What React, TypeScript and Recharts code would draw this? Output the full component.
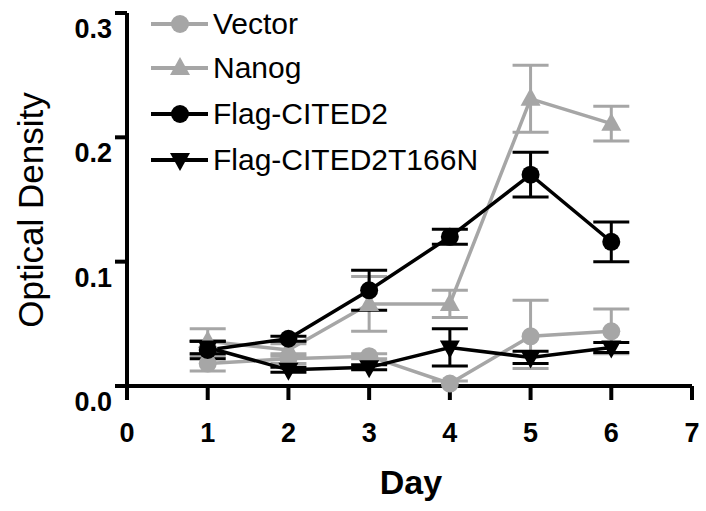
import { LineChart, Line, XAxis, YAxis, ErrorBar, Legend } from "recharts";

const days = [1, 2, 3, 4, 5, 6];
const vector = [0.018, 0.022, 0.024, 0.002, 0.04, 0.044];
const vectorErr = [0.006, 0.004, 0.002, 0.002, [0.026, 0.029], 0.018];
const nanog = [0.036, 0.029, 0.066, 0.066, 0.231, 0.211];
const nanogErr = [0.01, 0.005, 0.022, 0.011, 0.027, 0.014];
const cited2 = [0.029, 0.038, 0.077, 0.12, 0.17, 0.116];
const cited2Err = [0.007, 0.002, 0.016, 0.006, 0.018, 0.016];
const t166n = [0.031, 0.013, 0.015, 0.031, 0.023, 0.031];
const t166nErr = [0.005, 0.002, 0.002, 0.015, 0.005, 0.004];
const xTicks = [0, 1, 2, 3, 4, 5, 6, 7];
const yTicks = [0, 0.1, 0.2, 0.3];

const GREY = "#a6a6a6";
const BLACK = "#000";
const FONT = "'Liberation Sans', Arial, sans-serif";

const data = days.map((d, i) => ({
  day: d,
  vector: vector[i],
  vectorErr: vectorErr[i],
  nanog: nanog[i],
  nanogErr: nanogErr[i],
  cited2: cited2[i],
  cited2Err: cited2Err[i],
  t166n: t166n[i],
  t166nErr: t166nErr[i],
}));

type Shape = "circle" | "up" | "down";

function marker(shape: Shape, cx: number, cy: number, color: string, key?: string | number) {
  if (shape === "circle") return <circle key={key} cx={cx} cy={cy} r={9} fill={color} />;
  if (shape === "up")
    return <polygon key={key} points={`${cx},${cy - 11} ${cx - 10},${cy + 7} ${cx + 10},${cy + 7}`} fill={color} />;
  return <polygon key={key} points={`${cx - 10},${cy - 7} ${cx + 10},${cy - 7} ${cx},${cy + 11}`} fill={color} />;
}

const dot = (shape: Shape, color: string) => (p: any) => marker(shape, p.cx, p.cy, color, p.index);

const series = [
  { key: "vector", name: "Vector", color: GREY, shape: "circle" as Shape },
  { key: "nanog", name: "Nanog", color: GREY, shape: "up" as Shape },
  { key: "cited2", name: "Flag-CITED2", color: BLACK, shape: "circle" as Shape },
  { key: "t166n", name: "Flag-CITED2T166N", color: BLACK, shape: "down" as Shape },
];

const legendRows = [24, 68, 114, 160];

function LegendBox() {
  return (
    <svg width={706} height={190}>
      {series.map((s, i) => (
        <g key={s.key}>
          <line x1={151} x2={208} y1={legendRows[i]} y2={legendRows[i]} stroke={s.color} strokeWidth={4} />
          {marker(s.shape, 180, legendRows[i], s.color)}
          <text x={213} y={legendRows[i] + 10} fontFamily={FONT} fontSize={30} fill="#000">
            {s.name}
          </text>
        </g>
      ))}
    </svg>
  );
}

const YTick = (p: any) => (
  <text x={p.x} y={p.y + 25} textAnchor="end" fontFamily={FONT} fontWeight="bold" fontSize={27} fill="#000">
    {p.payload.value.toFixed(1)}
  </text>
);

const XTick = (p: any) => (
  <text x={p.x} y={p.y + 40} textAnchor="middle" fontFamily={FONT} fontWeight="bold" fontSize={27} fill="#000">
    {p.payload.value}
  </text>
);

export default function App() {
  return (
    <div style={{ position: "absolute", left: 0, top: 0, width: 706, height: 511, background: "#fff" }}>
      <LineChart width={706} height={511} data={data} margin={{ top: 13, right: 14, bottom: 25, left: 0 }}>
        <XAxis
          dataKey="day"
          type="number"
          domain={[0, 7]}
          ticks={xTicks}
          interval={0}
          height={100}
          tickSize={14}
          tickMargin={2}
          axisLine={{ stroke: BLACK, strokeWidth: 4 }}
          tickLine={{ stroke: BLACK, strokeWidth: 4 }}
          tick={<XTick />}
          label={{
            content: () => (
              <text x={411} y={494} textAnchor="middle" fontFamily={FONT} fontWeight="bold" fontSize={34} fill="#000">
                Day
              </text>
            ),
          }}
        />
        <YAxis
          type="number"
          domain={[0, 0.3]}
          ticks={yTicks}
          interval={0}
          width={127}
          tickSize={12}
          tickMargin={3}
          axisLine={{ stroke: BLACK, strokeWidth: 4 }}
          tickLine={{ stroke: BLACK, strokeWidth: 4 }}
          tick={<YTick />}
          label={{
            content: () => (
              <text
                x={30}
                y={210}
                transform="rotate(-90 30 210)"
                textAnchor="middle"
                dominantBaseline="central"
                fontFamily={FONT}
                fontSize={35}
                fill="#000"
              >
                Optical Density
              </text>
            ),
          }}
        />
        <Legend
          layout="vertical"
          align="center"
          verticalAlign="middle"
          wrapperStyle={{ left: 0, top: 0, width: 706, height: 190 }}
          content={() => <LegendBox />}
        />
        {series.map((s) => (
          <Line
            key={s.key}
            dataKey={s.key}
            name={s.name}
            stroke={s.color}
            strokeWidth={3.5}
            dot={dot(s.shape, s.color)}
            activeDot={false}
            isAnimationActive={false}
          >
            <ErrorBar dataKey={`${s.key}Err`} width={18} stroke={s.color} strokeWidth={3} isAnimationActive={false} />
          </Line>
        ))}
      </LineChart>
    </div>
  );
}
